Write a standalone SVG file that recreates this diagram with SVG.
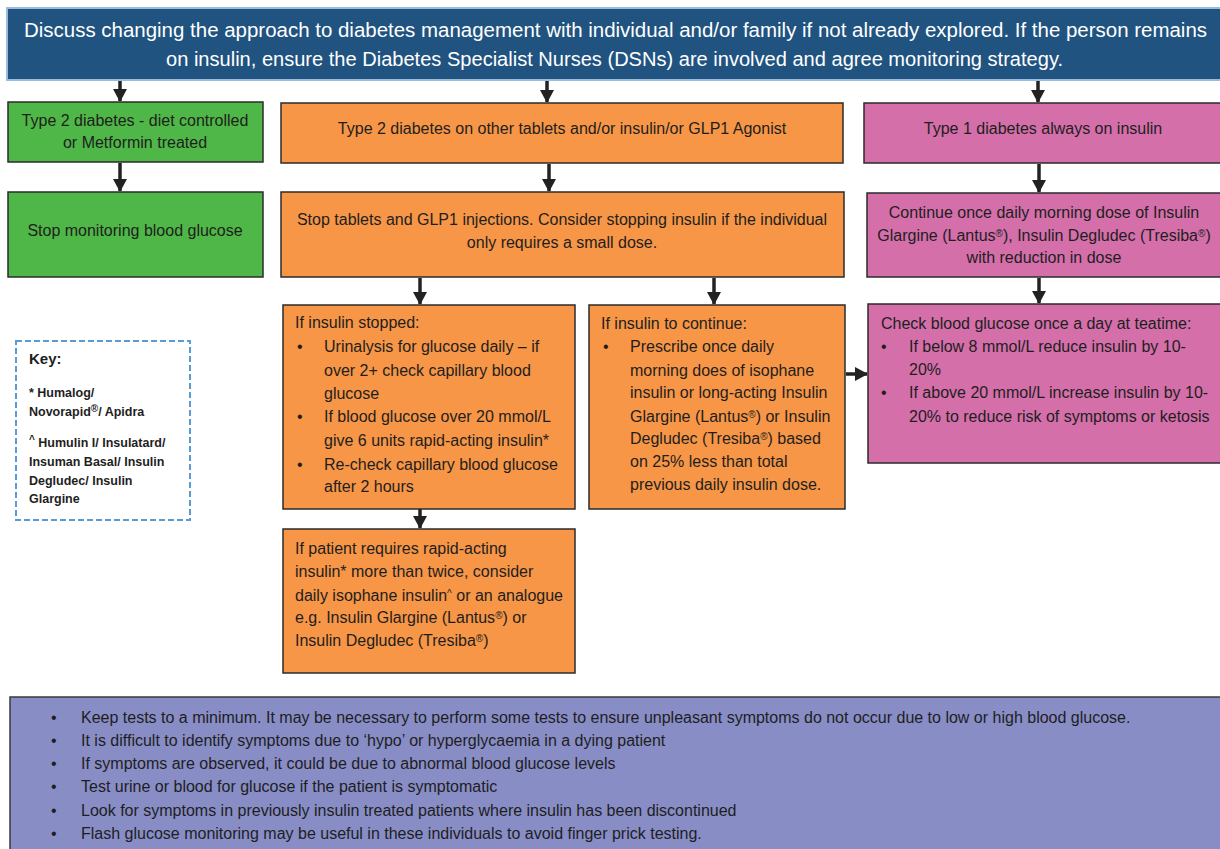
<svg xmlns="http://www.w3.org/2000/svg" width="1220" height="849" viewBox="0 0 1220 849">
<style>
  text { font-family: "Liberation Sans", Arial, sans-serif; fill: #1e1e1e; }
  .hd { font-size: 20px; fill: #ffffff; }
  .bx { font-size: 16px; }
  .ky { font-size: 12.5px; font-weight: bold; }
  .kyt { font-size: 15px; font-weight: bold; }
  .c { text-anchor: middle; }
  .sup { font-size: 10px; baseline-shift: 40%; }
  .box { stroke: #2b2b2b; stroke-width: 1.5; }
  .green { fill: #4FB747; }
  .orange { fill: #F79646; }
  .pink { fill: #D46FAA; }
  .conn { stroke: #222222; stroke-width: 3.5; fill: none; marker-end: url(#ah); }
</style>
<defs>
  <marker id="ah" markerUnits="userSpaceOnUse" markerWidth="13" markerHeight="14" refX="12" refY="7" orient="auto">
    <path d="M0,0 L13,7 L0,14 z" fill="#222222"/>
  </marker>
</defs>
<rect width="1220" height="849" fill="#ffffff"/>

<g id="header">
  <rect x="7" y="8" width="1216" height="72" fill="#20537F" stroke="#9BBBDD" stroke-width="2"/>
  <text class="hd" x="24" y="37" textLength="1183" lengthAdjust="spacingAndGlyphs">Discuss changing the approach to diabetes management with individual and/or family if not already explored. If the person remains</text>
  <text class="hd" x="166" y="66" textLength="897" lengthAdjust="spacingAndGlyphs">on insulin, ensure the Diabetes Specialist Nurses (DSNs) are involved and agree monitoring strategy.</text>
</g>

<g id="connectors">
  <line class="conn" x1="120" y1="81" x2="120" y2="101"/>
  <line class="conn" x1="120" y1="163" x2="120" y2="191"/>
  <line class="conn" x1="547" y1="81" x2="547" y2="102"/>
  <line class="conn" x1="549" y1="164" x2="549" y2="191"/>
  <line class="conn" x1="420" y1="278" x2="420" y2="304"/>
  <line class="conn" x1="714" y1="278" x2="714" y2="304"/>
  <line class="conn" x1="420" y1="509" x2="420" y2="528"/>
  <line class="conn" x1="846" y1="374" x2="867" y2="374"/>
  <line class="conn" x1="1038" y1="81" x2="1038" y2="102"/>
  <line class="conn" x1="1039" y1="164" x2="1039" y2="192"/>
  <line class="conn" x1="1039" y1="278" x2="1039" y2="303"/>
</g>

<g id="green1">
  <rect class="box green" x="8" y="102" width="255" height="60"/>
  <text class="bx c" x="135" y="126">Type 2 diabetes - diet controlled</text>
  <text class="bx c" x="135" y="148">or Metformin treated</text>
</g>

<g id="green2">
  <rect class="box green" x="8" y="192" width="255" height="85"/>
  <text class="bx c" x="135" y="235.5">Stop monitoring blood glucose</text>
</g>

<g id="orange1">
  <rect class="box orange" x="281" y="103" width="562" height="60"/>
  <text class="bx c" x="562" y="133.5">Type 2 diabetes on other tablets and/or insulin/or GLP1 Agonist</text>
</g>

<g id="orange2">
  <rect class="box orange" x="281" y="192" width="563" height="85"/>
  <text class="bx c" x="562" y="224.5">Stop tablets and GLP1 injections. Consider stopping insulin if the individual</text>
  <text class="bx c" x="562" y="247.5">only requires a small dose.</text>
</g>

<g id="orange3">
  <rect class="box orange" x="283" y="305" width="292" height="204"/>
  <text class="bx" x="295" y="328">If insulin stopped:</text>
  <text class="bx" x="297" y="352">•</text>
  <text class="bx" x="324" y="352">Urinalysis for glucose daily – if</text>
  <text class="bx" x="324" y="375.5">over 2+ check capillary blood</text>
  <text class="bx" x="324" y="398.5">glucose</text>
  <text class="bx" x="297" y="422">•</text>
  <text class="bx" x="324" y="422">If blood glucose over 20 mmol/L</text>
  <text class="bx" x="324" y="445.5">give 6 units rapid-acting insulin*</text>
  <text class="bx" x="297" y="469.5">•</text>
  <text class="bx" x="324" y="469.5">Re-check capillary blood glucose</text>
  <text class="bx" x="324" y="492">after 2 hours</text>
</g>

<g id="orange4">
  <rect class="box orange" x="283" y="529" width="292" height="144"/>
  <text class="bx" x="295" y="554">If patient requires rapid-acting</text>
  <text class="bx" x="295" y="577">insulin* more than twice, consider</text>
  <text class="bx" x="295" y="600.5">daily isophane insulin<tspan class="sup">^</tspan> or an analogue</text>
  <text class="bx" x="295" y="623">e.g. Insulin Glargine (Lantus<tspan class="sup">®</tspan>) or</text>
  <text class="bx" x="295" y="646">Insulin Degludec (Tresiba<tspan class="sup">®</tspan>)</text>
</g>

<g id="orange5">
  <rect class="box orange" x="589" y="305" width="256" height="204"/>
  <text class="bx" x="601" y="328.5">If insulin to continue:</text>
  <text class="bx" x="603" y="352">•</text>
  <text class="bx" x="630" y="352">Prescribe once daily</text>
  <text class="bx" x="630" y="375.5">morning does of isophane</text>
  <text class="bx" x="630" y="398">insulin or long-acting Insulin</text>
  <text class="bx" x="630" y="421.5">Glargine (Lantus<tspan class="sup">®</tspan>) or Insulin</text>
  <text class="bx" x="630" y="444">Degludec (Tresiba<tspan class="sup">®</tspan>) based</text>
  <text class="bx" x="630" y="467">on 25% less than total</text>
  <text class="bx" x="630" y="490">previous daily insulin dose.</text>
</g>

<g id="pink1">
  <rect class="box pink" x="864" y="103" width="360" height="60"/>
  <text class="bx c" x="1043" y="133.5">Type 1 diabetes always on insulin</text>
</g>

<g id="pink2">
  <rect class="box pink" x="867" y="193" width="357" height="84"/>
  <text class="bx c" x="1044" y="217.5">Continue once daily morning dose of Insulin</text>
  <text class="bx c" x="1044" y="240.5">Glargine (Lantus<tspan class="sup">®</tspan>), Insulin Degludec (Tresiba<tspan class="sup">®</tspan>)</text>
  <text class="bx c" x="1044" y="263">with reduction in dose</text>
</g>

<g id="pink3">
  <rect class="box pink" x="868" y="304" width="356" height="159"/>
  <text class="bx" x="881" y="328.5">Check blood glucose once a day at teatime:</text>
  <text class="bx" x="881" y="351.5">•</text>
  <text class="bx" x="909" y="351.5">If below 8 mmol/L reduce insulin by 10-</text>
  <text class="bx" x="909" y="375">20%</text>
  <text class="bx" x="881" y="398">•</text>
  <text class="bx" x="909" y="398">If above 20 mmol/L increase insulin by 10-</text>
  <text class="bx" x="909" y="421.5">20% to reduce risk of symptoms or ketosis</text>
</g>

<g id="key">
  <rect x="16" y="341" width="174" height="179" fill="#ffffff" stroke="#5B9BD5" stroke-width="2" stroke-dasharray="6,3"/>
  <text class="kyt" x="29" y="364">Key:</text>
  <text class="ky" x="29" y="397">* Humalog/</text>
  <text class="ky" x="29" y="416">Novorapid<tspan class="sup">®</tspan>/ Apidra</text>
  <text class="ky" x="29" y="447"><tspan class="sup">^</tspan> Humulin I/ Insulatard/</text>
  <text class="ky" x="29" y="466">Insuman Basal/ Insulin</text>
  <text class="ky" x="29" y="484.5">Degludec/ Insulin</text>
  <text class="ky" x="29" y="503">Glargine</text>
</g>

<g id="notes">
  <rect x="10" y="697" width="1214" height="160" fill="#888DC6" stroke="#3a3a3a" stroke-width="1.5"/>
  <text class="bx" x="51" y="722.5">•</text>
  <text class="bx" x="81" y="722.5">Keep tests to a minimum. It may be necessary to perform some tests to ensure unpleasant symptoms do not occur due to low or high blood glucose.</text>
  <text class="bx" x="51" y="745.5">•</text>
  <text class="bx" x="81" y="745.5">It is difficult to identify symptoms due to ‘hypo’ or hyperglycaemia in a dying patient</text>
  <text class="bx" x="51" y="768.5">•</text>
  <text class="bx" x="81" y="768.5">If symptoms are observed, it could be due to abnormal blood glucose levels</text>
  <text class="bx" x="51" y="791.5">•</text>
  <text class="bx" x="81" y="791.5">Test urine or blood for glucose if the patient is symptomatic</text>
  <text class="bx" x="51" y="815.5">•</text>
  <text class="bx" x="81" y="815.5">Look for symptoms in previously insulin treated patients where insulin has been discontinued</text>
  <text class="bx" x="51" y="838.5">•</text>
  <text class="bx" x="81" y="838.5">Flash glucose monitoring may be useful in these individuals to avoid finger prick testing.</text>
</g>
</svg>
